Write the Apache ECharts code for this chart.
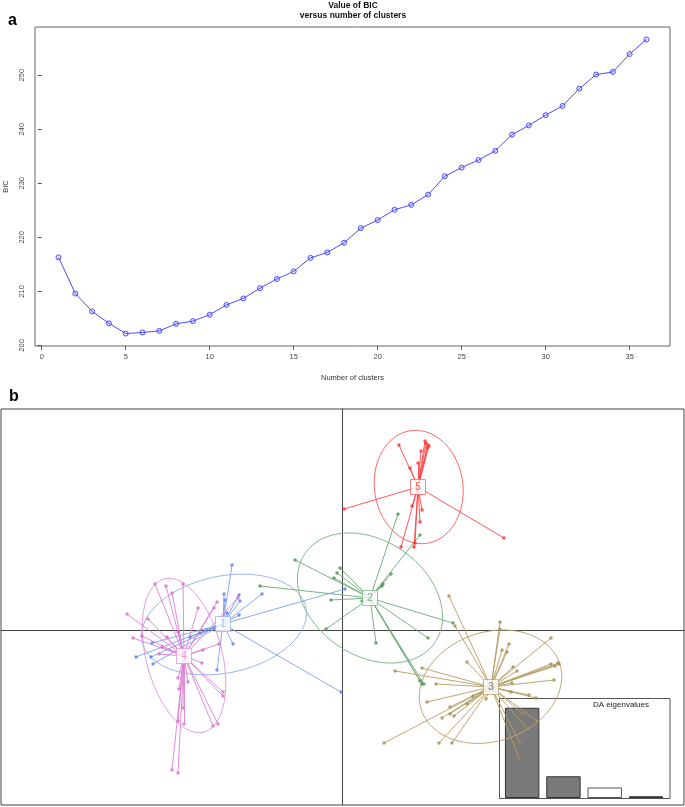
<!DOCTYPE html>
<html><head><meta charset="utf-8">
<script src="https://cdn.jsdelivr.net/npm/echarts@6/dist/echarts.min.js"></script>
<style>html,body{margin:0;padding:0;background:#fff}#c{width:685px;height:807px}</style>
</head><body><div id="c"></div><script>
// ---------- Panel a : BIC ----------
const bicK = [1,2,3,4,5,6,7,8,9,10,11,12,13,14,15,16,17,18,19,20,21,22,23,24,25,26,27,28,29,30,31,32,33,34,35,36];
const bicValues = [216.3,209.6,206.3,204.1,202.2,202.4,202.7,204.0,204.5,205.7,207.5,208.7,210.6,212.3,213.7,216.2,217.2,219.0,221.7,223.2,225.1,226.0,227.9,231.3,232.9,234.3,236.0,239.0,240.7,242.6,244.3,247.5,250.1,250.6,253.9,256.6];
const bicXTicks = [0,5,10,15,20,25,30,35];
const bicYTicks = [200,210,220,230,240,250];

// ---------- Panel b : DAPC scatter (LD1, LD2) ----------
const clusterNames = ['1','2','3','4','5'];
const centroids = [[-11.9,0.6],[2.8,3.2],[14.9,-5.7],[-15.8,-2.6],[7.6,14.3]];
const cluster1 = [[-11.0,6.5],[-8.0,3.6],[0.3,4.1],[-11.8,3.6],[-11.7,3.0],[-10.3,3.5],[-10.2,2.9],[-11.5,1.7],[-10.3,1.5],[-10.9,-1.4],[-12.5,-4.0],[-20.6,-2.7],[-19.1,-2.7],[-18.9,-3.4],[-19.0,-1.3],[-15.2,-0.7],[-13.5,0.0],[-0.1,-6.2],[-14.2,-0.3],[-12.7,0.2]];
const cluster2 = [[5.6,11.6],[7.8,9.5],[4.9,5.6],[4.1,4.6],[4.0,4.4],[-4.7,7.0],[-0.2,6.2],[-0.5,5.7],[-0.8,5.2],[-8.2,4.4],[-1.1,3.0],[2.0,2.9],[-1.6,0.1],[3.4,-1.3],[8.6,-0.8],[11.1,0.7],[8.0,-5.4],[8.2,-5.4],[7.8,-5.1]];
const cluster3 = [[15.8,0.8],[15.8,0.1],[16.7,-1.4],[16.0,-2.0],[16.5,-2.2],[12.5,-3.2],[20.9,-0.8],[5.3,-4.1],[8.0,-3.8],[9.4,-5.4],[17.1,-3.7],[17.5,-4.1],[20.9,-3.4],[21.3,-3.6],[21.6,-3.3],[21.7,-3.4],[21.2,-5.0],[17.0,-5.3],[16.9,-6.2],[18.7,-6.5],[19.4,-6.8],[8.5,-7.2],[14.4,-6.9],[13.1,-6.6],[12.5,-7.4],[10.8,-7.7],[10.8,-8.4],[10.0,-8.8],[11.2,-8.6],[4.2,-11.3],[9.7,-11.3],[11.0,-11.3],[18.1,-8.4],[18.3,-9.6],[19.5,-9.1],[17.8,-11.3],[17.7,-12.8],[10.7,3.4],[11.3,0.4]];
const cluster4 = [[-18.7,4.6],[-17.6,4.4],[-17.0,3.7],[-15.9,4.6],[-14.4,2.2],[-12.5,2.8],[-12.8,2.2],[-10.4,3.2],[-21.5,1.6],[-19.4,1.1],[-20.9,-0.8],[-20.0,-0.6],[-18.0,-1.7],[-18.3,-2.4],[-16.4,-0.2],[-17.5,-0.7],[-13.9,-2.0],[-12.3,-1.4],[-14.0,-3.3],[-16.4,-4.8],[-15.4,-5.2],[-16.3,-5.9],[-11.9,-6.2],[-11.9,-6.6],[-15.9,-7.8],[-16.4,-9.1],[-15.8,-9.4],[-12.9,-9.6],[-12.4,-9.4],[-17.0,-14.0],[-16.4,-14.3]];
const cluster5 = [[5.7,18.5],[6.8,16.2],[7.6,16.7],[7.9,17.9],[8.4,18.7],[8.6,18.5],[8.5,18.2],[8.3,18.9],[8.7,18.4],[0.2,12.1],[16.2,9.2],[7.0,12.4],[8.0,12.0],[7.8,10.8],[5.9,8.3],[7.2,8.3],[7.3,8.7]];
// ellipse: centre x, centre y, semi-axis a, semi-axis b, angle (deg)
const ellipses = [[-11.8,0.55,8.36,4.84,11.7],[2.8,3.2,7.87,5.74,-34.6],[14.85,-5.67,7.29,5.45,18.8],[-15.8,-2.55,7.91,3.8,-75.6],[7.67,14.3,5.69,4.42,-82]];
// DA eigenvalues
const eigLabels = ['1','2','3','4'];
const eigValues = [361,87,42,7];

const clusters = [cluster1,cluster2,cluster3,cluster4,cluster5];
const pointColors = ['#5a7ee8','#4f8f5a','#a48c4c','#d96cc8','#ff2a2a'];
const lineColors = ['#7f9ef0','#6aa873','#b39d62','#dd80d4','#ff4545'];
const ellColors = ['#98b3f2','#80b689','#bba674','#e39ade','#ff6262'];
const labelColors = ['#9ab2f2','#5f9e6a','#555555','#e08bdb','#ff3a3a'];
const FONT = 'Liberation Sans, Arial, sans-serif';

const chart = echarts.init(document.getElementById('c'), null, {renderer:'canvas'});

const series = [];
series.push({
  type:'line', xAxisIndex:0, yAxisIndex:0,
  data: bicK.map((k,i)=>[k,bicValues[i]]),
  symbol:'circle', symbolSize:5,
  lineStyle:{color:'#4d4dff', width:1},
  itemStyle:{color:'rgba(77,77,255,0.12)', borderColor:'#4d4dff', borderWidth:1},
  silent:true, animation:false, z:3
});
series.push({
  type:'bar', xAxisIndex:2, yAxisIndex:2, barWidth:34.4,
  data: eigValues.map((v,i)=>({value:v, itemStyle:{color: i===2 ? '#ffffff' : '#7a7a7a', borderColor: i===2 ? '#555' : '#333', borderWidth:1}})),
  silent:true, animation:false, z:1
});
series.push({
  type:'custom', xAxisIndex:1, yAxisIndex:1,
  data: ellipses, encode:{x:0,y:1}, dimensions:['x','y','a','b','ang'],
  renderItem:function(params, api){
    const cx=api.value(0), cy=api.value(1), a=api.value(2), b=api.value(3), ang=api.value(4)*Math.PI/180;
    const pts=[];
    for(let i=0;i<=144;i++){
      const t=i/144*2*Math.PI;
      const x=cx+a*Math.cos(t)*Math.cos(ang)-b*Math.sin(t)*Math.sin(ang);
      const y=cy+a*Math.cos(t)*Math.sin(ang)+b*Math.sin(t)*Math.cos(ang);
      pts.push(api.coord([x,y]));
    }
    return {type:'polyline', shape:{points:pts}, style:{stroke:ellColors[params.dataIndex], fill:null, lineWidth:1}};
  },
  silent:true, animation:false, z:2
});
clusters.forEach((pts,ci)=>{
  series.push({
    type:'lines', coordinateSystem:'cartesian2d', xAxisIndex:1, yAxisIndex:1,
    data: pts.map(p=>({coords:[centroids[ci], p]})),
    lineStyle:{color:lineColors[ci], width:1, opacity:0.9},
    silent:true, animation:false, z:3
  });
  series.push({
    type:'scatter', xAxisIndex:1, yAxisIndex:1, data: pts,
    symbol:'circle', symbolSize:3.5, itemStyle:{color:pointColors[ci]},
    silent:true, animation:false, z:4
  });
});
series.push({
  type:'scatter', xAxisIndex:1, yAxisIndex:1,
  data: centroids.map((c,i)=>({value:c, name:clusterNames[i],
    itemStyle:{color:'#fff', borderColor:ellColors[i], borderWidth:1},
    label:{color:labelColors[i]}})),
  symbol:'rect', symbolSize:15,
  label:{show:true, position:'inside', formatter:'{b}', fontSize:10, fontFamily:FONT},
  silent:true, animation:false, z:6
});

const option = {
  backgroundColor:'#fff',
  animation:false,
  grid:[
    {left:35, top:27, width:635, height:319, show:true, borderColor:'#666', borderWidth:1, backgroundColor:'transparent', containLabel:false, outerBoundsMode:'none'},
    {left:1, top:409, width:683, height:396, show:true, borderColor:'#444', borderWidth:1, backgroundColor:'transparent', containLabel:false, outerBoundsMode:'none'},
    {left:501.5, top:698, width:165.2, height:100, show:false, containLabel:false, outerBoundsMode:'none'}
  ],
  xAxis:[
    {gridIndex:0, type:'value', min:-0.4, max:37.4,
     name:'Number of clusters', nameLocation:'middle', nameGap:28,
     nameTextStyle:{fontSize:7.5, color:'#333', fontFamily:FONT},
     axisLine:{show:false}, splitLine:{show:false},
     axisTick:{show:true, length:4, customValues:bicXTicks, lineStyle:{color:'#555'}},
     axisLabel:{customValues:bicXTicks, fontSize:7.5, color:'#444', margin:7, fontFamily:FONT}},
    {gridIndex:1, type:'value', min:-34.1, max:34.2,
     axisLine:{show:true, onZero:true, lineStyle:{color:'#444', width:1}},
     axisTick:{show:false}, axisLabel:{show:false}, splitLine:{show:false}},
    {gridIndex:2, type:'category', data:eigLabels, show:false}
  ],
  yAxis:[
    {gridIndex:0, type:'value', min:199.9, max:258.9,
     name:'BIC', nameLocation:'middle', nameGap:25, nameRotate:90,
     nameTextStyle:{fontSize:7.5, color:'#333', fontFamily:FONT},
     axisLine:{show:false}, splitLine:{show:false},
     axisTick:{show:true, length:4, customValues:bicYTicks, lineStyle:{color:'#555'}},
     axisLabel:{customValues:bicYTicks, rotate:90, fontSize:7.5, color:'#444', margin:9, fontFamily:FONT}},
    {gridIndex:1, type:'value', min:-17.5, max:22.1,
     axisLine:{show:true, onZero:true, lineStyle:{color:'#444', width:1}},
     axisTick:{show:false}, axisLabel:{show:false}, splitLine:{show:false}},
    {gridIndex:2, type:'value', min:0, max:400, show:false}
  ],
  graphic:[
    {type:'text', left:8, top:13, style:{text:'a', font:'bold 16px '+FONT, fill:'#000'}},
    {type:'text', left:9, top:389, style:{text:'b', font:'bold 16px '+FONT, fill:'#000'}},
    {type:'text', x:353, y:6, style:{text:'Value of BIC', font:'bold 8.5px '+FONT, fill:'#111', textAlign:'center', textVerticalAlign:'middle'}},
    {type:'text', x:353, y:16, style:{text:'versus number of clusters', font:'bold 8.5px '+FONT, fill:'#111', textAlign:'center', textVerticalAlign:'middle'}},
    {type:'rect', shape:{x:499.5, y:698.5, width:170.5, height:100}, style:{fill:null, stroke:'#555', lineWidth:1}, z:0},
    {type:'text', x:621, y:705, style:{text:'DA eigenvalues', font:'8px '+FONT, fill:'#222', textAlign:'center', textVerticalAlign:'middle'}}
  ],
  series: series
};
chart.setOption(option);
</script></body></html>
